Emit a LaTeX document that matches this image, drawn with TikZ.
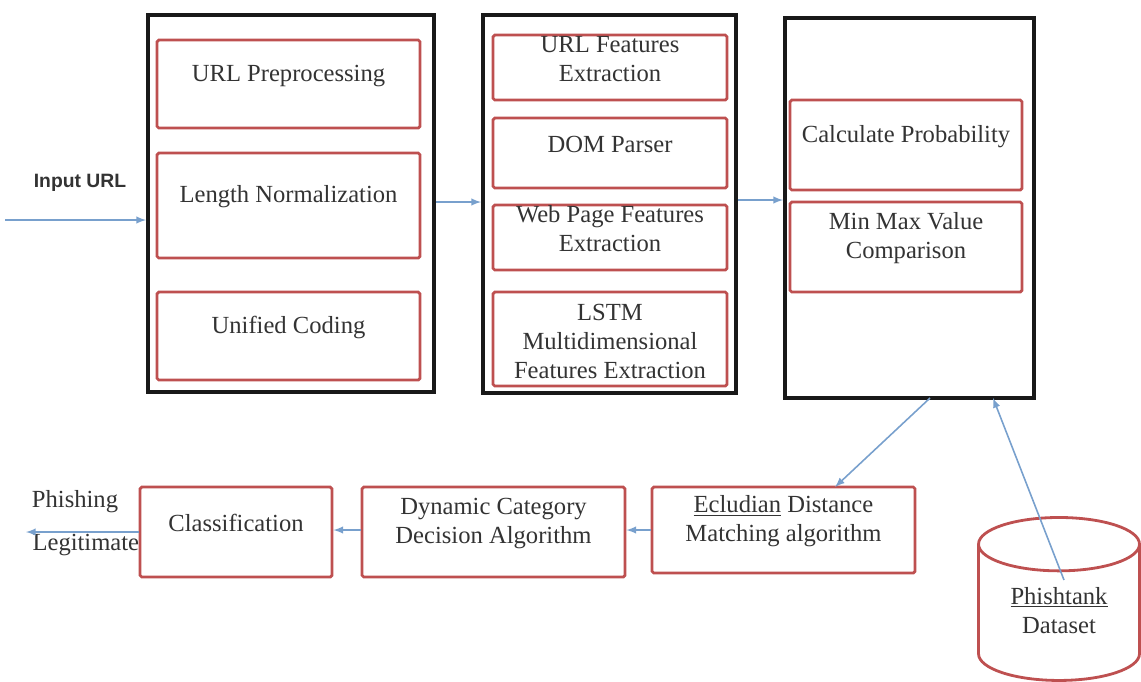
\documentclass[tikz,border=0pt]{standalone}
\usepackage{fontspec}
\setmainfont{Liberation Serif}
\setsansfont{Liberation Sans}
\usepackage{tikz}
\usetikzlibrary{arrows,fit,shapes.geometric}

\definecolor{boxred}{RGB}{190,80,80}
\definecolor{flowblue}{RGB}{120,160,205}

\begin{document}
\begin{tikzpicture}[x=0.02cm,y=-0.02cm,thick,
  stage box/.style={draw=black!90,line width=2.2pt,inner sep=0pt},
  task box/.style={draw=boxred,line width=1.6pt,rounded corners=1pt,inner sep=0pt,
    align=center,text=black!80,font=\fontsize{14}{16.5}\selectfont},
  flow/.style={draw=flowblue,line width=0.9pt,-latex}]

  \useasboundingbox (0,0) rectangle (1141,681);

  % the three stages
  \node[stage box,fit={(148,15) (434,392)}] (s1) {};
  \node[stage box,fit={(483,15) (736,393)}] (s2) {};
  \node[stage box,fit={(785,18) (1034,398)}] (s3) {};

  \node[task box,fit={(157,40) (420,128)}] (pre) {URL Preprocessing};
  \node[task box,fit={(157,153) (420,258)}] (len) {Length Normalization};
  \node[task box,fit={(157,292) (420,380)}] (uni) {Unified Coding};

  \node[task box,fit={(493,35) (727,100)}] (urlf) {URL Features\\Extraction};
  \node[task box,fit={(493,118) (727,188)}] (dom) {DOM Parser};
  \node[task box,fit={(493,205) (727,270)}] (web) {Web Page Features\\Extraction};
  \node[task box,fit={(493,292) (727,386)}] (lstm) {\\[-4pt]LSTM\\Multidimensional\\Features Extraction};

  \node[task box,fit={(790,100) (1022,190)}] (prob) {Calculate Probability};
  \node[task box,fit={(790,202) (1022,292)}] (minmax) {Min Max Value\\Comparison};

  % lower row
  \node[task box,fit={(140,487) (332,577)}] (cls) {Classification};
  \node[task box,fit={(362,487) (625,577)}] (dca) {Dynamic Category\\Decision Algorithm};
  \node[task box,fit={(652,487) (915,573)}] (edm) {\underline{Ecludian} Distance\\Matching algorithm};

  \node[draw=boxred,line width=1.6pt,cylinder,shape border rotate=90,aspect=0.55,
    minimum width=3.22cm,minimum height=3.26cm,inner sep=0pt,align=center,
    text=black!80,font=\fontsize{14}{16.5}\selectfont] (db) at (1059,613)
    {\\[-10pt]\underline{Phishtank}\\Dataset};

  % labels
  \node[font=\sffamily\bfseries\fontsize{11}{13}\selectfont,text=black!80] (inlab) at (80,183) {Input URL};
  \node[font=\fontsize{14}{16.5}\selectfont,text=black!80] (phish) at (75,502) {Phishing};
  \node[font=\fontsize{14}{16.5}\selectfont,text=black!80,anchor=west] (legit) at (26,545) {Legitimate};

  \coordinate (in) at (5,220);
  \coordinate (out) at (26,532);

  % connectors
  \draw[flow] (in) -- (in -| s1.west);
  \draw[flow] (s1.east |- 0,202) -- (s2.west |- 0,202);
  \draw[flow] (s2.east |- 0,200) -- (s3.west |- 0,200);
  \draw[flow] (930,398) -- (835,487);
  \draw[flow] (1064,580) -- (993,398);
  \draw[flow] (edm.west |- 0,530) -- (dca.east |- 0,530);
  \draw[flow] (dca.west |- 0,530) -- (cls.east |- 0,530);
  \draw[flow] (cls.west |- out) -- (out);
\end{tikzpicture}
\end{document}
